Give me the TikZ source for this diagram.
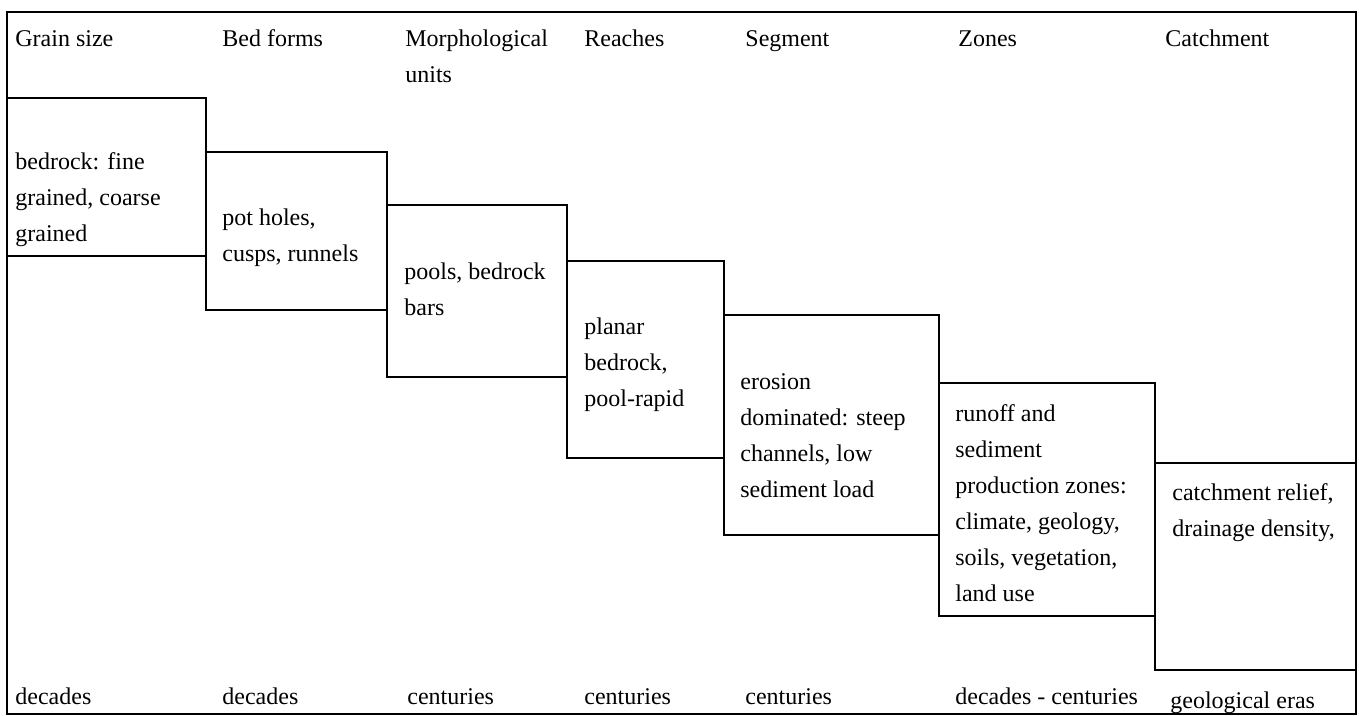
\documentclass[tikz,border=0pt]{standalone}
\usepackage{fontspec}
\setmainfont{Liberation Serif}
\tikzset{
  cell/.style={draw, line width=1.3pt},
  lbl/.style={anchor=base west, inner sep=0pt, align=left,
    font=\fontsize{12}{18}\selectfont}
}
\begin{document}
\begin{tikzpicture}[x=0.5pt, y=-0.5pt]
            \useasboundingbox (0,0) rectangle (1359,716);
            % outer frame
            \draw[cell] (7,12) rectangle (1356,714);
            % scale boxes, stepping down (base anchor = last text line)
            \draw[cell] (7,98) rectangle (206,256);
            \draw[cell] (206,152) rectangle (387,310);
            \draw[cell] (387,205) rectangle (567,377);
            \draw[cell] (567,261) rectangle (724,458);
            \draw[cell] (724,315) rectangle (939,535);
            \draw[cell] (939,383) rectangle (1155,616);
            \draw[cell] (1155,463) rectangle (1356,670);
            % column headings
            \node[lbl] (hgrain) at (15,47) {Grain size};
            \node[lbl] (hbed) at (222,47) {Bed forms};
            \node[lbl] (hmorph) at (405,83) {Morphological\\units};
            \node[lbl] (hreach) at (584,47) {Reaches};
            \node[lbl] (hseg) at (745,47) {Segment};
            \node[lbl] (hzone) at (958,47) {Zones};
            \node[lbl] (hcatch) at (1165,47) {Catchment};
            % box contents
            \node[lbl] (tgrain) at (15,242) {bedrock: fine\\grained, coarse\\grained};
            \node[lbl] (tbed) at (222,262) {pot holes,\\cusps, runnels};
            \node[lbl] (tmorph) at (404,316) {pools, bedrock\\bars};
            \node[lbl] (treach) at (584,407) {planar\\bedrock,\\pool-rapid};
            \node[lbl] (tseg) at (740,497) {erosion\\dominated: steep\\channels, low\\sediment load};
            \node[lbl] (tzone) at (955,601) {runoff and\\sediment\\production zones:\\climate, geology,\\soils, vegetation,\\land use};
            \node[lbl] (tcatch) at (1172,536) {catchment relief,\\drainage density,};
            % time scales
            \node[lbl] (sgrain) at (15,704) {decades};
            \node[lbl] (sbed) at (222,704) {decades};
            \node[lbl] (smorph) at (407,704) {centuries};
            \node[lbl] (sreach) at (584,704) {centuries};
            \node[lbl] (sseg) at (745,704) {centuries};
            \node[lbl] (szone) at (955,704) {decades - centuries};
            \node[lbl] (scatch) at (1170,708) {geological eras};
        \end{tikzpicture}
\end{document}
